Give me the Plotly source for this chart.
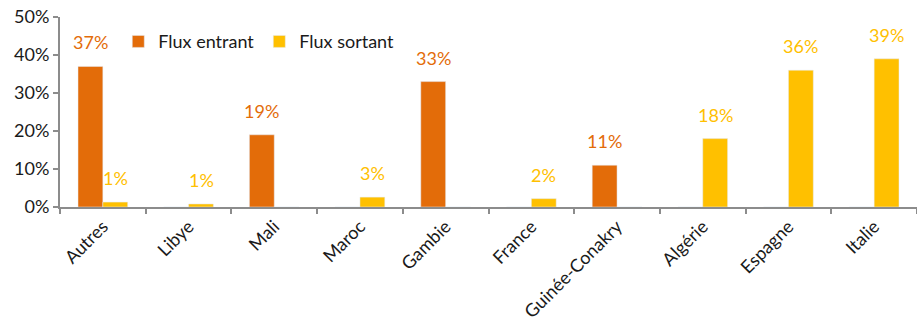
import plotly.graph_objects as go

# Countries and shares of flows (%)
categories = ["Autres", "Libye", "Mali", "Maroc", "Gambie", "France",
              "Guinée-Conakry", "Algérie", "Espagne", "Italie"]
flux_entrant = [37, 0, 19, 0, 33, 0, 11, 0, 0, 0]
flux_sortant = [1.3, 0.8, 0, 2.6, 0, 2.2, 0, 18, 36, 39]
y_ticks = [0, 10, 20, 30, 40, 50]

ORANGE = "#E36C09"
YELLOW = "#FFC000"
FONT = "Lato"
AXIS = "#8c8c8c"
FS = 18

fig = go.Figure()
fig.add_trace(go.Bar(name="Flux entrant", x=categories, y=flux_entrant,
                     marker_color=ORANGE))
fig.add_trace(go.Bar(name="Flux sortant", x=categories, y=flux_sortant,
                     marker_color=YELLOW))

# Value labels above each non-zero bar, shifted onto its own half of the group
half_bar = 12.5
for series, color, shift in ((flux_entrant, ORANGE, -half_bar),
                             (flux_sortant, YELLOW, half_bar)):
    for cat, val in zip(categories, series):
        if val > 0:
            fig.add_annotation(x=cat, y=val, text=f"{val:.0f}%",
                               showarrow=False, xshift=shift, yshift=11,
                               yanchor="bottom",
                               font=dict(family=FONT, size=FS, color=color))

fig.update_layout(
    width=917, height=321,
    margin=dict(l=60, r=0, t=17, b=114),
    paper_bgcolor="white", plot_bgcolor="white",
    barmode="group", bargap=0.42, bargroupgap=0,
    font=dict(family=FONT, size=FS, color="#1a1a1a"),
    showlegend=True,
    legend=dict(orientation="h", x=0.068, y=0.87, xanchor="left",
                yanchor="middle", font=dict(family=FONT, size=FS),
                bgcolor="rgba(0,0,0,0)", itemwidth=30, tracegroupgap=0),
)
fig.update_xaxes(showline=True, linecolor=AXIS, linewidth=2,
                 ticks="outside", tickson="boundaries", ticklen=5,
                 tickcolor=AXIS, tickwidth=2, tickangle=-45,
                 showgrid=False, tickfont=dict(family=FONT, size=FS))
fig.update_yaxes(range=[0, 50], tickvals=y_ticks,
                 ticktext=[f"{v}%" for v in y_ticks],
                 showline=True, linecolor=AXIS, linewidth=2,
                 ticks="outside", ticklen=5, tickcolor=AXIS, tickwidth=2,
                 showgrid=False, zeroline=False,
                 tickfont=dict(family=FONT, size=FS))

fig.write_html("out.html")
